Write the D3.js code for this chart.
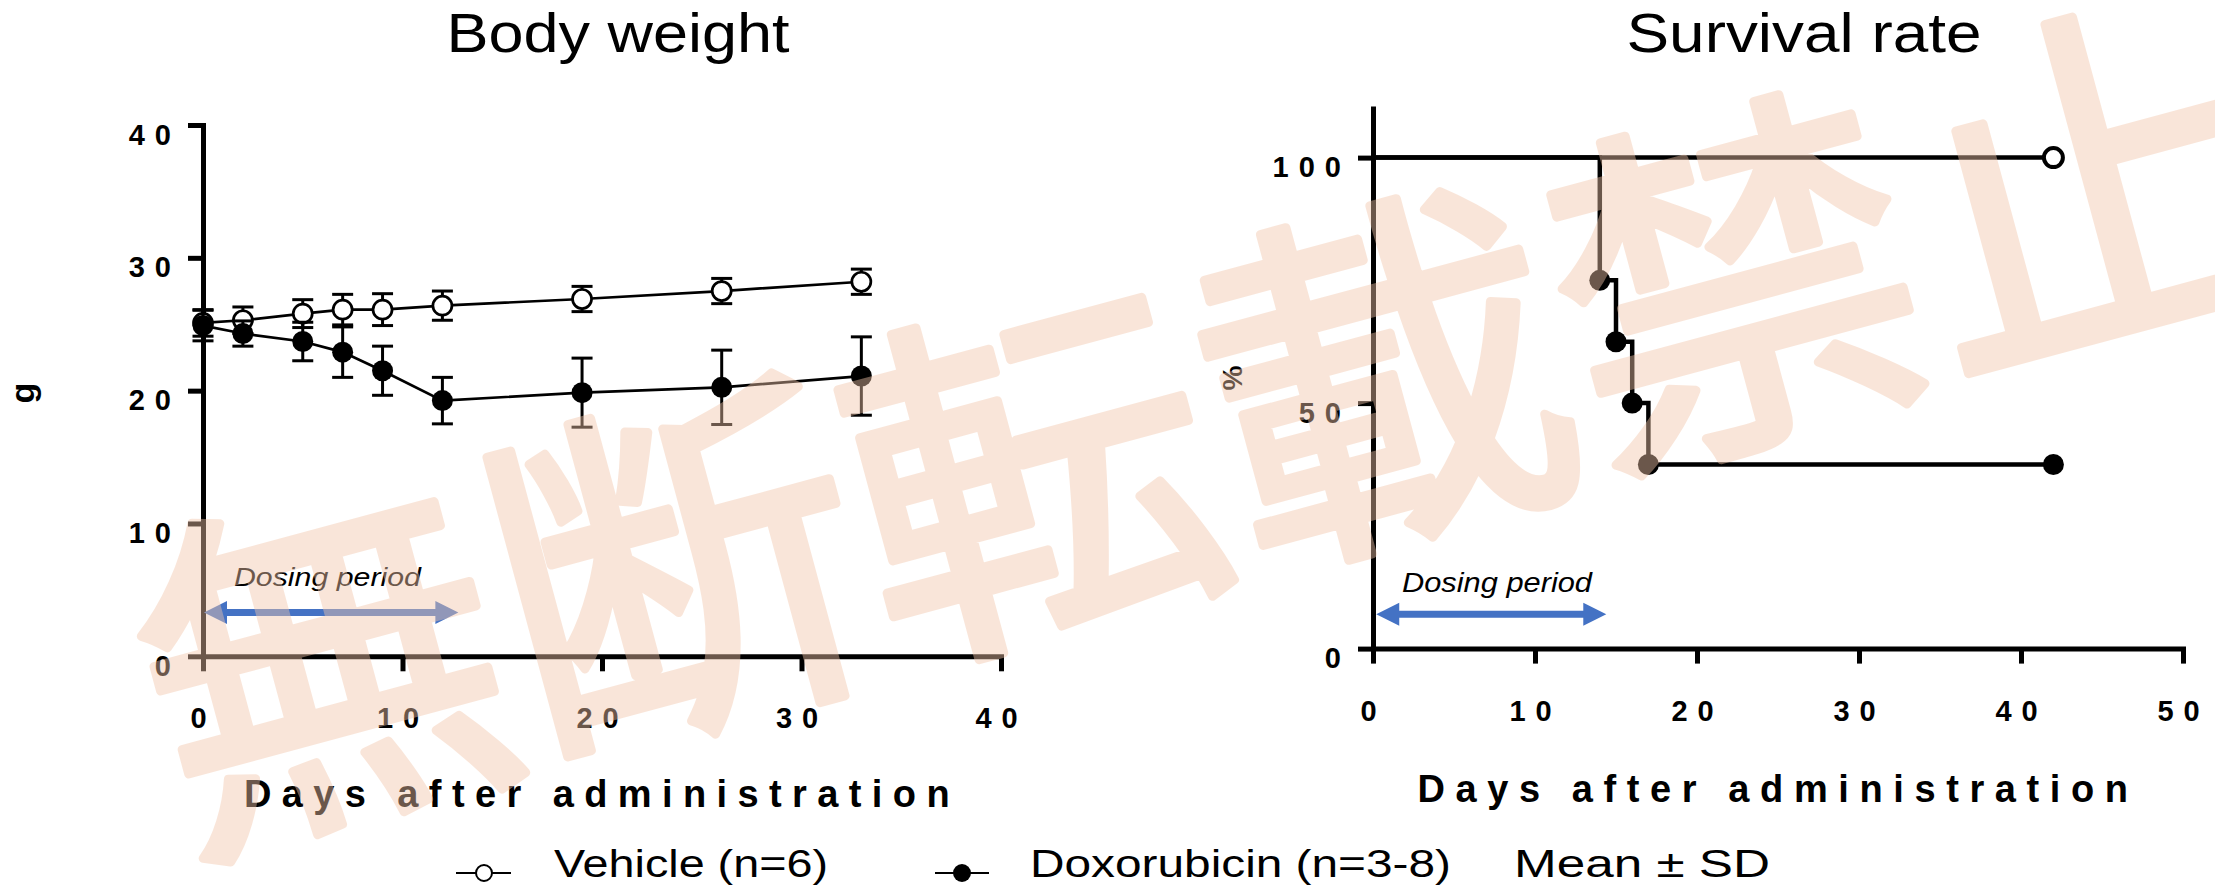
<!DOCTYPE html>
<html>
<head>
<meta charset="utf-8">
<script src="https://cdn.jsdelivr.net/npm/d3@7/dist/d3.min.js"></script>
<style>
  html, body { margin: 0; padding: 0; background: #fff; }
  svg { display: block; font-family: "Liberation Sans", Arial, sans-serif; }
</style>
</head>
<body>
<svg id="fig" width="2215" height="894"></svg>
<script>
// ---- Body weight (g), mean and SD per group ----
const bwDays   = [0, 2, 5, 7, 9, 12, 19, 26, 33];
const vehMean  = [25.1, 25.3, 25.8, 26.1, 26.1, 26.4, 26.9, 27.5, 28.2];
const vehSD    = [1.0, 1.0, 1.05, 1.15, 1.2, 1.1, 0.95, 0.95, 0.95];
const doxMean  = [24.9, 24.3, 23.7, 22.9, 21.5, 19.25, 19.85, 20.25, 21.1];
const doxSD    = [1.15, 0.95, 1.45, 1.9, 1.85, 1.75, 2.6, 2.8, 2.95];

// ---- Survival (%) ----
const survVehDays = [0, 42];
const survVehPct  = [100, 100];
const survDoxDays = [0, 14, 15, 16, 17, 42];
const survDoxPct  = [100, 75, 62.5, 50, 37.5, 37.5];

// ---- Axis ticks ----
const bwXTicks = [0, 10, 20, 30, 40];
const bwYTicks = [0, 10, 20, 30, 40];
const svXTicks = [0, 10, 20, 30, 40, 50];
const svYTicks = [0, 50, 100];

// ---- Dosing period annotations: [start day, end day] and height ----
const bwDosing = [0.05, 12.8];
const bwDosingY = 3.3;
const svDosing = [0.2, 14.4];
const svDosingY = 7.0;

const legendItems = ["Vehicle (n=6)", "Doxorubicin (n=3-8)"];
const legendNote = "Mean \u00B1 SD";
const watermark = "無断転載禁止";

const svg = d3.select("#fig");

function styleAxis(g, orient) {
  g.select(".domain").attr("stroke", "#000").attr("stroke-width", 5).attr("stroke-linecap", "square");
  g.selectAll(".tick line").attr("stroke", "#000").attr("stroke-width", 5);
  g.selectAll(".tick text")
    .attr("fill", "#000")
    .style("font-size", "29px")
    .style("font-weight", "bold")
    .style("letter-spacing", "10px");
  if (orient === "left") {
    g.selectAll(".tick text").attr("x", -22).attr("dy", 0).attr("y", 19).attr("text-anchor", "end");
  } else {
    g.selectAll(".tick text").attr("y", 72).attr("dy", 0).attr("text-anchor", "middle");
  }
}

function arrow(g, x1, x2, y, color) {
  const sh = 3.5, hl = 23, hh = 11.5;
  const p = d3.path();
  p.moveTo(x1, y);
  p.lineTo(x1 + hl, y - hh);
  p.lineTo(x1 + hl, y - sh);
  p.lineTo(x2 - hl, y - sh);
  p.lineTo(x2 - hl, y - hh);
  p.lineTo(x2, y);
  p.lineTo(x2 - hl, y + hh);
  p.lineTo(x2 - hl, y + sh);
  p.lineTo(x1 + hl, y + sh);
  p.lineTo(x1 + hl, y + hh);
  p.closePath();
  g.append("path").attr("d", p.toString()).attr("fill", color);
}

// ================= Body weight panel =================
const bx = d3.scaleLinear().domain([0, 40]).range([203, 1001]);
const by = d3.scaleLinear().domain([0, 40]).range([656.3, 125]);

const bw = svg.append("g");

bw.append("text").attr("x", 618).attr("y", 52)
  .attr("text-anchor", "middle").style("font-size", "56px")
  .attr("textLength", 343).attr("lengthAdjust", "spacingAndGlyphs")
  .text("Body weight");

bw.append("g").attr("transform", `translate(0,${by(0)})`)
  .call(d3.axisBottom(bx).tickValues(bwXTicks).tickSize(15).tickSizeOuter(0))
  .call(g => styleAxis(g, "bottom"));
bw.append("g").attr("transform", `translate(${bx(0)},0)`)
  .call(d3.axisLeft(by).tickValues(bwYTicks).tickSize(15).tickSizeOuter(0))
  .call(g => styleAxis(g, "left"));

bw.append("text").attr("x", 602).attr("y", 807).attr("text-anchor", "middle")
  .style("font-size", "38px").style("font-weight", "bold").style("letter-spacing", "10.4px")
  .text("Days after administration");

bw.append("text").attr("transform", "translate(34,393) rotate(-90)").attr("text-anchor", "middle")
  .style("font-size", "34px").style("font-weight", "bold").text("g");

// dosing period
bw.append("text").attr("x", bx(bwDosing[0]) + 30).attr("y", 586)
  .style("font-size", "26.5px").style("font-style", "italic")
  .attr("textLength", 187).attr("lengthAdjust", "spacingAndGlyphs").text("Dosing period");
arrow(bw, bx(bwDosing[0]), bx(bwDosing[1]), by(bwDosingY), "#4472C4");

function series(g, means, sds, filled) {
  const pts = bwDays.map((d, i) => ({ d, m: means[i], s: sds[i] }));
  const line = d3.line().x(p => bx(p.d)).y(p => by(p.m));
  g.append("path").attr("d", line(pts)).attr("fill", "none").attr("stroke", "#000").attr("stroke-width", 2.7);
  const eb = g.append("g").attr("stroke", "#000").attr("stroke-width", 3);
  pts.forEach(p => {
    const x = bx(p.d), y1 = by(p.m + p.s), y2 = by(p.m - p.s);
    eb.append("line").attr("x1", x).attr("x2", x).attr("y1", y1).attr("y2", y2);
    eb.append("line").attr("x1", x - 10.5).attr("x2", x + 10.5).attr("y1", y1).attr("y2", y1);
    eb.append("line").attr("x1", x - 10.5).attr("x2", x + 10.5).attr("y1", y2).attr("y2", y2);
  });
  g.selectAll(null).data(pts).enter().append("circle")
    .attr("cx", p => bx(p.d)).attr("cy", p => by(p.m))
    .attr("r", filled ? 10.5 : 9.5)
    .attr("fill", filled ? "#000" : "#fff")
    .attr("stroke", "#000").attr("stroke-width", filled ? 0 : 2.7);
}
series(bw.append("g"), vehMean, vehSD, false);
series(bw.append("g"), doxMean, doxSD, true);

// ================= Survival panel =================
const sx = d3.scaleLinear().domain([0, 50]).range([1373, 2183]);
const sy = d3.scaleLinear().domain([0, 110]).range([648.6, 108.5]);

const sv = svg.append("g");
sv.append("text").attr("x", 1804).attr("y", 52)
  .attr("text-anchor", "middle").style("font-size", "56px")
  .attr("textLength", 355).attr("lengthAdjust", "spacingAndGlyphs")
  .text("Survival rate");

sv.append("g").attr("transform", `translate(0,${sy(0)})`)
  .call(d3.axisBottom(sx).tickValues(svXTicks).tickSize(15).tickSizeOuter(0))
  .call(g => styleAxis(g, "bottom"));
sv.append("g").attr("transform", `translate(${sx(0)},0)`)
  .call(d3.axisLeft(sy).tickValues(svYTicks).tickSize(15).tickSizeOuter(0))
  .call(g => styleAxis(g, "left"));

sv.append("text").attr("x", 1778).attr("y", 802).attr("text-anchor", "middle")
  .style("font-size", "38px").style("font-weight", "bold").style("letter-spacing", "10.6px")
  .text("Days after administration");

sv.append("text").attr("transform", "translate(1242,378) rotate(-90)").attr("text-anchor", "middle")
  .style("font-size", "28px").style("font-weight", "bold").text("%");

sv.append("text").attr("x", 1402).attr("y", 592)
  .style("font-size", "27px").style("font-style", "italic")
  .attr("textLength", 190).attr("lengthAdjust", "spacingAndGlyphs").text("Dosing period");
arrow(sv, sx(svDosing[0]), sx(svDosing[1]), sy(svDosingY), "#4472C4");

const step = d3.line().x(p => sx(p[0])).y(p => sy(p[1])).curve(d3.curveStepAfter);
const vehPts = survVehDays.map((d, i) => [d, survVehPct[i]]);
const doxPts = survDoxDays.map((d, i) => [d, survDoxPct[i]]);
sv.append("path").attr("d", step(vehPts)).attr("fill", "none").attr("stroke", "#000").attr("stroke-width", 4.5);
sv.append("path").attr("d", step(doxPts)).attr("fill", "none").attr("stroke", "#000").attr("stroke-width", 4.5);
sv.selectAll(null).data(vehPts.slice(1)).enter().append("circle")
  .attr("cx", p => sx(p[0])).attr("cy", p => sy(p[1])).attr("r", 9.5)
  .attr("fill", "#fff").attr("stroke", "#000").attr("stroke-width", 4);
sv.selectAll(null).data(doxPts.slice(1)).enter().append("circle")
  .attr("cx", p => sx(p[0])).attr("cy", p => sy(p[1])).attr("r", 10.5).attr("fill", "#000");

// ================= Legend =================
const lg = svg.append("g");
const ly = 873;
lg.append("line").attr("x1", 456).attr("x2", 511).attr("y1", ly).attr("y2", ly).attr("stroke", "#000").attr("stroke-width", 2);
lg.append("circle").attr("cx", 484).attr("cy", ly).attr("r", 8).attr("fill", "#fff").attr("stroke", "#000").attr("stroke-width", 2);
lg.append("text").attr("x", 554).attr("y", 877).style("font-size", "38px")
  .attr("textLength", 274).attr("lengthAdjust", "spacingAndGlyphs").text(legendItems[0]);
lg.append("line").attr("x1", 935).attr("x2", 989).attr("y1", ly).attr("y2", ly).attr("stroke", "#000").attr("stroke-width", 2);
lg.append("circle").attr("cx", 962).attr("cy", ly).attr("r", 9).attr("fill", "#000");
lg.append("text").attr("x", 1030).attr("y", 877).style("font-size", "38px")
  .attr("textLength", 421).attr("lengthAdjust", "spacingAndGlyphs").text(legendItems[1]);
lg.append("text").attr("x", 1514).attr("y", 877).style("font-size", "38px")
  .attr("textLength", 256).attr("lengthAdjust", "spacingAndGlyphs").text(legendNote);

// ================= Watermark overlay (composited once, semi-transparent) =================
svg.append("g").attr("opacity", 0.44)
  .append("text")
  .attr("transform", "translate(1200,404) rotate(-15.1)")
  .attr("text-anchor", "middle").attr("dominant-baseline", "central")
  .style("font-family", "'Noto Sans CJK JP', 'Noto Sans CJK SC', sans-serif")
  .style("font-size", "366px").style("font-weight", "normal")
  .attr("fill", "rgb(243,198,170)")
  .attr("stroke", "rgb(243,198,170)").attr("stroke-width", 9).attr("stroke-linejoin", "round")
  .text(watermark);
</script>
</body>
</html>
